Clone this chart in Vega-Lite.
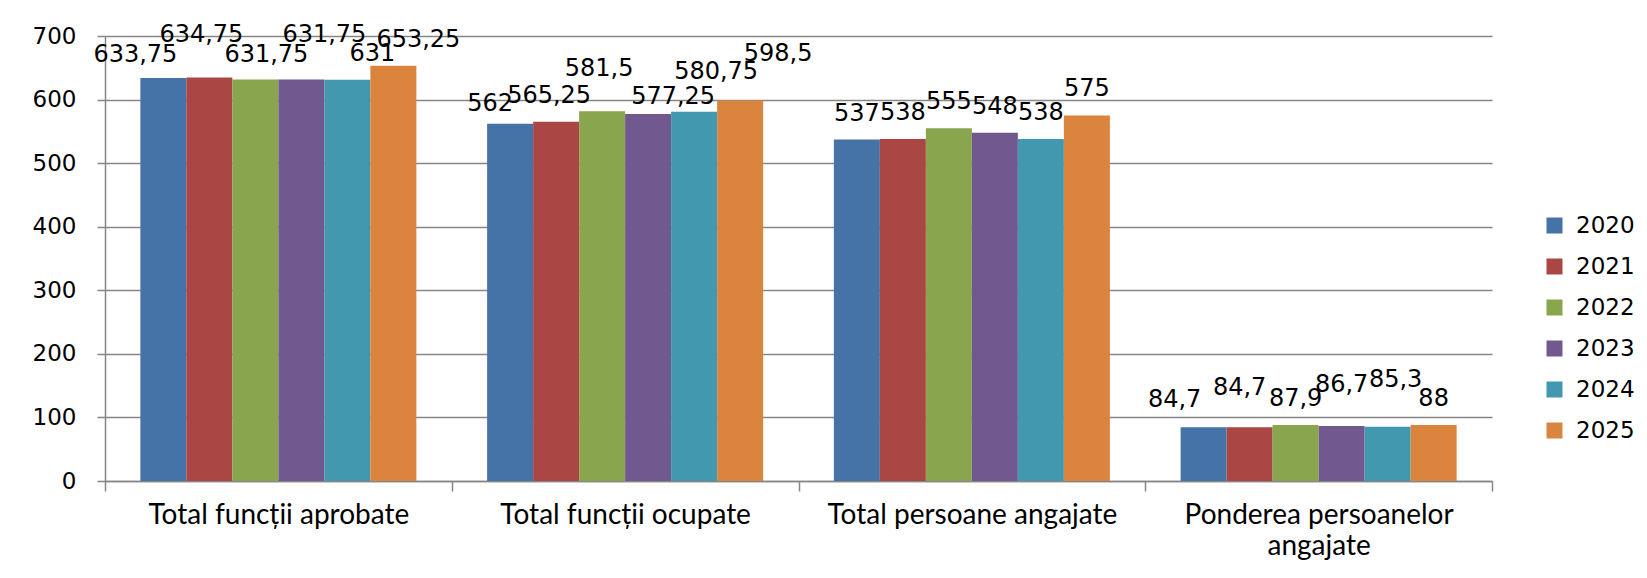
{
  "$schema": "https://vega.github.io/schema/vega-lite/v6.json",
  "width": 1387,
  "height": 445,
  "autosize": {"type": "none"},
  "padding": {"left": 105, "top": 36, "right": 155, "bottom": 97},
  "background": "white",
  "config": {
    "locale": {"number": {"decimal": ",", "thousands": ".", "grouping": [3], "currency": ["", " lei"]}},
    "view": {"stroke": null},
    "text": {"font": "DejaVu Sans", "fontSize": 24, "color": "black", "baseline": "middle"}
  },
  "data": {"values": [
    {"c": "Total funcții aprobate", "year": "2020", "v": 633.75},
    {"c": "Total funcții aprobate", "year": "2021", "v": 634.75},
    {"c": "Total funcții aprobate", "year": "2022", "v": 631.75},
    {"c": "Total funcții aprobate", "year": "2023", "v": 631.75},
    {"c": "Total funcții aprobate", "year": "2024", "v": 631},
    {"c": "Total funcții aprobate", "year": "2025", "v": 653.25},
    {"c": "Total funcții ocupate", "year": "2020", "v": 562},
    {"c": "Total funcții ocupate", "year": "2021", "v": 565.25},
    {"c": "Total funcții ocupate", "year": "2022", "v": 581.5},
    {"c": "Total funcții ocupate", "year": "2023", "v": 577.25},
    {"c": "Total funcții ocupate", "year": "2024", "v": 580.75},
    {"c": "Total funcții ocupate", "year": "2025", "v": 598.5},
    {"c": "Total persoane angajate", "year": "2020", "v": 537},
    {"c": "Total persoane angajate", "year": "2021", "v": 538},
    {"c": "Total persoane angajate", "year": "2022", "v": 555},
    {"c": "Total persoane angajate", "year": "2023", "v": 548},
    {"c": "Total persoane angajate", "year": "2024", "v": 538},
    {"c": "Total persoane angajate", "year": "2025", "v": 575},
    {"c": "Ponderea persoanelor angajate", "year": "2020", "v": 84.7},
    {"c": "Ponderea persoanelor angajate", "year": "2021", "v": 84.7},
    {"c": "Ponderea persoanelor angajate", "year": "2022", "v": 87.9},
    {"c": "Ponderea persoanelor angajate", "year": "2023", "v": 86.7},
    {"c": "Ponderea persoanelor angajate", "year": "2024", "v": 85.3},
    {"c": "Ponderea persoanelor angajate", "year": "2025", "v": 88}
  ]},
  "encoding": {
    "x": {
      "field": "c", "type": "nominal",
      "sort": ["Total funcții aprobate", "Total funcții ocupate", "Total persoane angajate", "Ponderea persoanelor angajate"],
      "scale": {"paddingInner": 0, "paddingOuter": 0},
      "axis": {
        "title": null, "labelAngle": 0, "labelFont": "Lato", "labelFontSize": 28, "labelColor": "black",
        "labelLimit": 500, "tickBand": "extent", "tickSize": 10, "tickColor": "#868686", "domainColor": "#868686",
        "domainWidth": 1.5, "tickWidth": 1.5,
        "labelPadding": 10, "labelLineHeight": 31, "grid": false,
        "labelExpr": "datum.label == 'Ponderea persoanelor angajate' ? ['Ponderea persoanelor', 'angajate'] : datum.label"
      }
    },
    "xOffset": {"field": "year", "type": "nominal", "scale": {"paddingInner": 0, "paddingOuter": 0.769}},
    "y": {
      "field": "v", "type": "quantitative",
      "scale": {"domain": [0, 700], "nice": false},
      "axis": {
        "title": null, "values": [0, 100, 200, 300, 400, 500, 600, 700],
        "labelFont": "DejaVu Sans", "labelFontSize": 23, "labelColor": "black", "labelPadding": 21,
        "tickSize": 8, "tickColor": "#868686", "domainColor": "#868686", "gridColor": "#868686",
        "gridWidth": 1.5, "domainWidth": 1.5, "tickWidth": 1.5, "grid": true
      }
    }
  },
  "layer": [
    {
      "mark": {"type": "bar"},
      "encoding": {
        "color": {
          "field": "year", "type": "nominal",
          "scale": {"domain": ["2020", "2021", "2022", "2023", "2024", "2025"], "range": ["#4572A7", "#AA4643", "#89A54E", "#71588F", "#4198AF", "#DB843D"]},
          "legend": {
            "title": null, "orient": "none", "legendX": 1438, "legendY": 178,
            "symbolType": "square", "symbolSize": 256, "symbolStrokeWidth": 0,
            "labelFont": "DejaVu Sans", "labelFontSize": 23, "labelColor": "black",
            "rowPadding": 17, "labelOffset": 10
          }
        }
      }
    },
    {"transform": [{"filter": "datum.c == 'Total persoane angajate' || (datum.c == 'Ponderea persoanelor angajate' && (datum.year == '2022' || datum.year == '2025'))"}],
     "mark": {"type": "text", "dx": 0, "dy": -26}, "encoding": {"text": {"field": "v", "type": "quantitative", "format": "~g"}}},
    {"transform": [{"filter": "datum.c == 'Total funcții aprobate' && datum.year == '2020'"}],
     "mark": {"type": "text", "dx": -28, "dy": -23}, "encoding": {"text": {"field": "v", "type": "quantitative", "format": "~g"}}},
    {"transform": [{"filter": "datum.c == 'Total funcții aprobate' && datum.year == '2021'"}],
     "mark": {"type": "text", "dx": -8, "dy": -42}, "encoding": {"text": {"field": "v", "type": "quantitative", "format": "~g"}}},
    {"transform": [{"filter": "datum.c == 'Total funcții aprobate' && datum.year == '2022'"}],
     "mark": {"type": "text", "dx": 11, "dy": -24}, "encoding": {"text": {"field": "v", "type": "quantitative", "format": "~g"}}},
    {"transform": [{"filter": "datum.c == 'Total funcții aprobate' && datum.year == '2023'"}],
     "mark": {"type": "text", "dx": 23, "dy": -44}, "encoding": {"text": {"field": "v", "type": "quantitative", "format": "~g"}}},
    {"transform": [{"filter": "datum.c == 'Total funcții aprobate' && (datum.year == '2024' || datum.year == '2025')"}],
     "mark": {"type": "text", "dx": 25, "dy": -26}, "encoding": {"text": {"field": "v", "type": "quantitative", "format": "~g"}}},
    {"transform": [{"filter": "datum.c == 'Total funcții ocupate' && datum.year == '2020'"}],
     "mark": {"type": "text", "dx": -20, "dy": -20}, "encoding": {"text": {"field": "v", "type": "quantitative", "format": "~g"}}},
    {"transform": [{"filter": "datum.c == 'Total funcții ocupate' && datum.year == '2021'"}],
     "mark": {"type": "text", "dx": -7, "dy": -26}, "encoding": {"text": {"field": "v", "type": "quantitative", "format": "~g"}}},
    {"transform": [{"filter": "datum.c == 'Total funcții ocupate' && datum.year == '2022'"}],
     "mark": {"type": "text", "dx": -3, "dy": -42}, "encoding": {"text": {"field": "v", "type": "quantitative", "format": "~g"}}},
    {"transform": [{"filter": "datum.c == 'Total funcții ocupate' && datum.year == '2023'"}],
     "mark": {"type": "text", "dx": 25, "dy": -17}, "encoding": {"text": {"field": "v", "type": "quantitative", "format": "~g"}}},
    {"transform": [{"filter": "datum.c == 'Total funcții ocupate' && datum.year == '2024'"}],
     "mark": {"type": "text", "dx": 22, "dy": -40}, "encoding": {"text": {"field": "v", "type": "quantitative", "format": "~g"}}},
    {"transform": [{"filter": "datum.c == 'Total funcții ocupate' && datum.year == '2025'"}],
     "mark": {"type": "text", "dx": 38, "dy": -47}, "encoding": {"text": {"field": "v", "type": "quantitative", "format": "~g"}}},
    {"transform": [{"filter": "datum.c == 'Ponderea persoanelor angajate' && datum.year == '2020'"}],
     "mark": {"type": "text", "dx": -29, "dy": -27}, "encoding": {"text": {"field": "v", "type": "quantitative", "format": "~g"}}},
    {"transform": [{"filter": "datum.c == 'Ponderea persoanelor angajate' && datum.year == '2021'"}],
     "mark": {"type": "text", "dx": -10, "dy": -39}, "encoding": {"text": {"field": "v", "type": "quantitative", "format": "~g"}}},
    {"transform": [{"filter": "datum.c == 'Ponderea persoanelor angajate' && datum.year == '2023'"}],
     "mark": {"type": "text", "dx": 0, "dy": -41}, "encoding": {"text": {"field": "v", "type": "quantitative", "format": "~g"}}},
    {"transform": [{"filter": "datum.c == 'Ponderea persoanelor angajate' && datum.year == '2024'"}],
     "mark": {"type": "text", "dx": 8, "dy": -47}, "encoding": {"text": {"field": "v", "type": "quantitative", "format": "~g"}}}
  ]
}
